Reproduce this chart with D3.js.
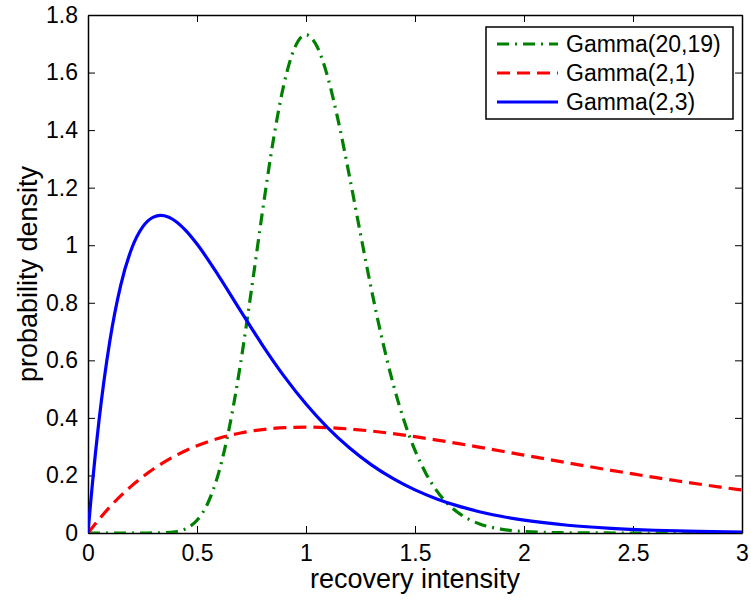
<!DOCTYPE html>
<html>
<head>
<meta charset="utf-8">
<script src="https://cdn.jsdelivr.net/npm/d3@7/dist/d3.min.js"></script>
<style>
  html, body { margin: 0; padding: 0; background: #fff; }
  svg { display: block; font-family: "Liberation Sans", Arial, Helvetica, sans-serif; }
</style>
</head>
<body>
<svg id="chart" width="751" height="603"></svg>
<script>
// ---- Data ----
const seriesNames = ["Gamma(20,19)", "Gamma(2,1)", "Gamma(2,3)"];
const seriesColors = ["#008000", "#ff0000", "#0000ff"];

const xG20 = [0, 0.1, 0.2, 0.25, 0.3, 0.35, 0.4, 0.45, 0.5, 0.55, 0.6, 0.65, 0.7, 0.75, 0.8, 0.85, 0.9, 0.95, 1.0,
  1.05, 1.1, 1.15, 1.2, 1.25, 1.3, 1.35, 1.4, 1.45, 1.5, 1.55, 1.6, 1.65, 1.7, 1.75, 1.8, 1.85, 1.9, 1.95, 2.0,
  2.1, 2.2, 2.3, 2.5, 2.75, 3.0];
const yG20 = [0, 0, 0, 0.00001, 0.00012, 0.00087, 0.00425, 0.0154, 0.0441, 0.1043, 0.2108, 0.3730, 0.5897, 0.8460,
  1.1152, 1.3646, 1.5633, 1.6891, 1.731, 1.6916, 1.5834, 1.4250, 1.2371, 1.0391, 0.8467, 0.6707, 0.5177, 0.3900,
  0.2872, 0.2071, 0.1464, 0.1016, 0.0693, 0.0465, 0.0307, 0.0200, 0.0128, 0.0081, 0.0051, 0.0019, 0.0007, 0.0002,
  0, 0, 0];

const xG21 = [0, 0.1, 0.2, 0.3, 0.4, 0.5, 0.6, 0.7, 0.8, 0.9, 1.0, 1.1, 1.2, 1.3, 1.4, 1.5, 1.6, 1.7, 1.8, 1.9, 2.0,
  2.1, 2.2, 2.3, 2.4, 2.5, 2.6, 2.7, 2.8, 2.9, 3.0];
const yG21 = [0, 0.0905, 0.1637, 0.2222, 0.2681, 0.3033, 0.3293, 0.3476, 0.3595, 0.3659, 0.3679, 0.3662, 0.3614,
  0.3543, 0.3452, 0.3347, 0.3230, 0.3106, 0.2975, 0.2842, 0.2707, 0.2572, 0.2438, 0.2306, 0.2177, 0.2052, 0.1931,
  0.1815, 0.1703, 0.1596, 0.1494];

const xG23 = [0, 0.01, 0.02, 0.05, 0.1, 0.15, 0.2, 0.25, 0.3, 0.333, 0.35, 0.4, 0.45, 0.5, 0.6, 0.7, 0.8, 0.9, 1.0,
  1.1, 1.2, 1.3, 1.4, 1.5, 1.6, 1.7, 1.8, 1.9, 2.0, 2.2, 2.4, 2.6, 2.8, 3.0];
const yG23 = [0, 0.0873, 0.1695, 0.3873, 0.6667, 0.8608, 0.9879, 1.0628, 1.0978, 1.1036, 1.1023, 1.0843, 1.0498,
  1.0041, 0.8926, 0.7717, 0.6532, 0.5443, 0.4481, 0.3652, 0.2951, 0.2368, 0.1889, 0.1500, 0.1185, 0.0933, 0.0732,
  0.0572, 0.0446, 0.0269, 0.0161, 0.0096, 0.0057, 0.0033];

const xTicks = [0, 0.5, 1, 1.5, 2, 2.5, 3];
const xTickLabels = ["0", "0.5", "1", "1.5", "2", "2.5", "3"];
const yTicks = [0, 0.2, 0.4, 0.6, 0.8, 1, 1.2, 1.4, 1.6, 1.8];
const yTickLabels = ["0", "0.2", "0.4", "0.6", "0.8", "1", "1.2", "1.4", "1.6", "1.8"];

const xLabel = "recovery intensity";
const yLabel = "probability density";

// ---- Layout ----
const L = 88, R = 742, T = 15, B = 533;
const svg = d3.select("#chart");

const x = d3.scaleLinear().domain([0, 3]).range([L, R]);
const y = d3.scaleLinear().domain([0, 1.8]).range([B, T]);

svg.append("defs").append("clipPath").attr("id", "clip")
  .append("rect").attr("x", L).attr("y", T - 2).attr("width", R - L).attr("height", B - T + 2);

// axes (ticks inside, mirrored)
const tickLen = 7;
const fmtX = (d, i) => xTickLabels[i];
const fmtY = (d, i) => yTickLabels[i];

const axB = svg.append("g").attr("transform", `translate(0,${B})`)
  .call(d3.axisBottom(x).tickValues(xTicks).tickFormat(fmtX).tickSizeInner(-tickLen).tickSizeOuter(0).tickPadding(12));
const axT = svg.append("g").attr("transform", `translate(0,${T})`)
  .call(d3.axisTop(x).tickValues(xTicks).tickFormat("").tickSizeInner(-tickLen).tickSizeOuter(0));
const axL = svg.append("g").attr("transform", `translate(${L},0)`)
  .call(d3.axisLeft(y).tickValues(yTicks).tickFormat(fmtY).tickSizeInner(-tickLen).tickSizeOuter(0).tickPadding(10));
const axR = svg.append("g").attr("transform", `translate(${R},0)`)
  .call(d3.axisRight(y).tickValues(yTicks).tickFormat("").tickSizeInner(-tickLen).tickSizeOuter(0));

[axB, axT, axL, axR].forEach(g => {
  g.select(".domain").attr("stroke", "#000").attr("stroke-width", 1.5);
  g.selectAll(".tick line").attr("stroke", "#000").attr("stroke-width", 1);
  g.selectAll(".tick text").attr("fill", "#000").attr("font-size", 23)
    .attr("font-family", "'Liberation Sans', Arial, sans-serif");
});

// series
const series = [
  { xs: xG20, ys: yG20, color: seriesColors[0], dash: "12,6,2,6" },
  { xs: xG21, ys: yG21, color: seriesColors[1], dash: "13,7" },
  { xs: xG23, ys: yG23, color: seriesColors[2], dash: null }
];
const line = d3.line().x(d => x(d[0])).y(d => y(d[1])).curve(d3.curveMonotoneX);
const plot = svg.append("g").attr("clip-path", "url(#clip)");
// draw in order: blue under? reference shows green on top of red; blue drawn last
series.forEach(s => {
  const pts = s.xs.map((v, i) => [v, s.ys[i]]);
  plot.append("path").datum(pts)
    .attr("d", line)
    .attr("fill", "none")
    .attr("stroke", s.color)
    .attr("stroke-width", 3.2)
    .attr("stroke-linejoin", "round")
    .attr("stroke-dasharray", s.dash);
});

// axis labels
svg.append("text").attr("x", (L + R) / 2).attr("y", 588)
  .attr("text-anchor", "middle").attr("font-size", 27).attr("fill", "#000").text(xLabel);
svg.append("text").attr("transform", `translate(37,${(T + B) / 2}) rotate(-90)`)
  .attr("text-anchor", "middle").attr("font-size", 27).attr("fill", "#000").text(yLabel);

// legend
const lg = svg.append("g");
lg.append("rect").attr("x", 486).attr("y", 27).attr("width", 247).attr("height", 92)
  .attr("fill", "#fff").attr("stroke", "#000").attr("stroke-width", 1.5);
seriesNames.forEach((name, i) => {
  const cy = 44 + i * 29;
  lg.append("line").attr("x1", 497).attr("x2", 558).attr("y1", cy).attr("y2", cy)
    .attr("stroke", series[i].color).attr("stroke-width", 3.2)
    .attr("stroke-dasharray", series[i].dash);
  lg.append("text").attr("x", 566).attr("y", cy + 8).attr("font-size", 23)
    .attr("fill", "#000").text(name);
});
</script>
</body>
</html>
